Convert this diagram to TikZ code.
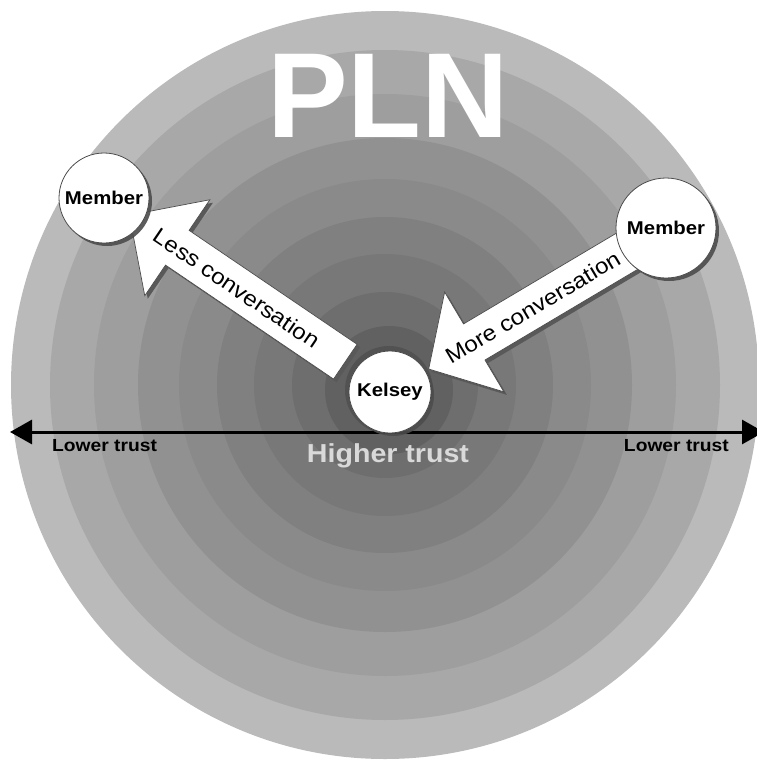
\documentclass[tikz,border=0pt]{standalone}
\usepackage{fontspec}
\setmainfont{Liberation Sans}
\newfontfamily\lbl[FakeStretch=1.1]{Liberation Sans}
\usetikzlibrary{shadows,arrows.meta}
\begin{document}
\begin{tikzpicture}[x=1pt,y=1pt,
  member/.style={circle, draw=black!70, line width=0.8pt, fill=white, inner sep=0pt,
    font=\lbl\bfseries\fontsize{18.5}{20}\selectfont,
    drop shadow={shadow xshift=3pt, shadow yshift=-3pt, fill=black!70, opacity=0.9}},
  blockarrow/.style={fill=white, draw=black!70, line width=0.7pt},
  arrowshadow/.style={fill=black!65},
  arrowtext/.style={font=\lbl\fontsize{22}{24}\selectfont, inner sep=0pt, transform shape},
  trustlbl/.style={font=\lbl\bfseries\fontsize{17.5}{19}\selectfont, inner sep=0pt, anchor=base},
]
\useasboundingbox (0,0) rectangle (757,-761);
\clip (0,0) rectangle (757,-761);
% concentric rings
\coordinate (ctr) at (385,-385);
\foreach \r/\k in {374/27, 335/34, 291/38, 247/43, 206/46, 168/50, 131/53, 93/57}
  \fill[black!\k] (ctr) circle[radius=\r];
\coordinate (ctr2) at (389,-390);
\foreach \r/\k in {64/62, 44/68}
  \fill[black!\k] (ctr2) circle[radius=\r];
% title
\node[font=\bfseries\fontsize{121}{121}\selectfont, text=white, anchor=base, inner sep=0pt] (title) at (388,-137) {PLN};
% positions
\coordinate (kpos) at (390,-392);
\coordinate (m1pos) at (104,-198);
\coordinate (m2pos) at (666,-228);
% trust axis
\coordinate (axL) at (10,-432);
\coordinate (axR) at (764,-432);
\draw[line width=3pt, {Triangle[length=22pt,width=24pt]}-{Triangle[length=22pt,width=24pt]}] (axL) -- (axR);
\node[trustlbl, anchor=base west] (lowL) at (52,-451) {Lower trust};
\node[trustlbl, anchor=base east] (lowR) at (729,-451) {Lower trust};
\node[font=\lbl\bfseries\fontsize{26}{28}\selectfont, text=black!15, anchor=base, inner sep=0pt] (high) at (388,-462) {Higher trust};
% left block arrow: Kelsey -> Member (less conversation)
\begin{scope}[shift={(kpos)}, xshift=3pt, yshift=-3pt, rotate=145.85]
  \fill[arrowshadow] (54,-21) -- (257,-21) -- (257,-58) -- (315,0) -- (257,58) -- (257,21) -- (54,21) -- cycle;
\end{scope}
\begin{scope}[shift={(kpos)}, rotate=145.85]
  \draw[blockarrow] (54,-21) -- (257,-21) -- (257,-58) -- (315,0) -- (257,58) -- (257,21) -- (54,21) -- cycle;
  \node[arrowtext, rotate=180] (lesstxt) at (185,0) {Less conversation};
\end{scope}
% right block arrow: Member -> Kelsey (more conversation)
\begin{scope}[shift={(kpos)}, xshift=3pt, yshift=-3pt, rotate=30.7]
  \fill[arrowshadow] (45,0) -- (98,58) -- (98,21) -- (300,21) -- (300,-21) -- (98,-21) -- (98,-58) -- cycle;
\end{scope}
\begin{scope}[shift={(kpos)}, rotate=30.7]
  \draw[blockarrow] (45,0) -- (98,58) -- (98,21) -- (300,21) -- (300,-21) -- (98,-21) -- (98,-58) -- cycle;
  \node[arrowtext] (moretxt) at (166,0) {More conversation};
\end{scope}
% people
\node[member, minimum size=90pt] (M1) at (m1pos) {Member};
\node[member, minimum size=100pt] (M2) at (m2pos) {Member};
\node[member, minimum size=82pt] (K) at (kpos) {Kelsey};
\end{tikzpicture}
\end{document}
